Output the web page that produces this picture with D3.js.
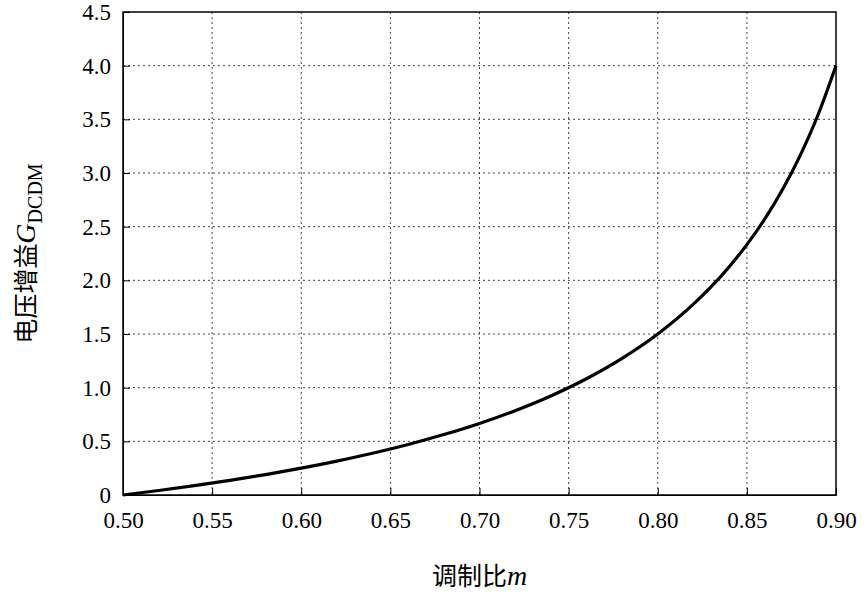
<!DOCTYPE html>
<html><head><meta charset="utf-8">
<script src="https://cdn.jsdelivr.net/npm/d3@7"></script>
<style>body{margin:0;background:#fff} text.t{font-family:"Liberation Serif","Times New Roman",serif !important}</style></head>
<body><svg id="c" width="868" height="594"></svg>
<script>
const mValues=[0.50,0.52,0.54,0.56,0.58,0.60,0.62,0.64,0.66,0.68,0.70,0.72,0.74,0.76,0.78,0.80,0.82,0.83,0.84,0.85,0.86,0.87,0.88,0.89,0.90];
const gValues=[0,0.042,0.087,0.136,0.190,0.25,0.316,0.389,0.471,0.563,0.667,0.786,0.923,1.083,1.273,1.5,1.778,1.941,2.125,2.333,2.571,2.846,3.167,3.545,4.0];
const xTicks=[0.50,0.55,0.60,0.65,0.70,0.75,0.80,0.85,0.90];
const yTicks=[0,0.5,1.0,1.5,2.0,2.5,3.0,3.5,4.0,4.5];
const svg=d3.select("#c");
const L=123,R=836,T=12,B=495;
const x=d3.scaleLinear().domain([0.5,0.9]).range([L,R]);
const y=d3.scaleLinear().domain([0,4.5]).range([B,T]);
const g=svg.append("g");
g.selectAll(".gx").data(xTicks.slice(1,-1)).join("line").attr("x1",d=>x(d)).attr("x2",d=>x(d)).attr("y1",T).attr("y2",B).attr("stroke","#444").attr("stroke-width",1).attr("stroke-dasharray","2,3");
g.selectAll(".gy").data(yTicks.slice(1,-1)).join("line").attr("y1",d=>y(d)).attr("y2",d=>y(d)).attr("x1",L).attr("x2",R).attr("stroke","#444").attr("stroke-width",1).attr("stroke-dasharray","2,3");
const xa=svg.append("g").attr("transform",`translate(0,${B})`).call(d3.axisBottom(x).tickValues(xTicks).tickFormat(d3.format(".2f")).tickSizeInner(-7).tickSizeOuter(0).tickPadding(17));
const ya=svg.append("g").attr("transform",`translate(${L},0)`).call(d3.axisLeft(y).tickValues(yTicks).tickFormat(d=>d===0?"0":d3.format(".1f")(d)).tickSizeInner(-7).tickSizeOuter(0).tickPadding(12));
[xa,ya].forEach(a=>{a.attr("font-family",null);a.selectAll("text").attr("class","t").attr("font-size",23).attr("fill","#000");a.selectAll("line,path").attr("stroke","#000");});
svg.append("rect").attr("x",L).attr("y",T).attr("width",R-L).attr("height",B-T).attr("fill","none").attr("stroke","#000").attr("stroke-width",1.5);
svg.append("path").datum(mValues.map((m,i)=>[m,gValues[i]])).attr("d",d3.line().x(d=>x(d[0])).y(d=>y(d[1])).curve(d3.curveMonotoneX)).attr("fill","none").attr("stroke","#000").attr("stroke-width",3.2);
const xl=svg.append("text").attr("x",(L+R)/2).attr("y",585).attr("text-anchor","middle").attr("font-size",25).attr("fill","#000");
xl.append("tspan").attr("font-family","Noto Sans CJK SC").text("调制比");
xl.append("tspan").attr("class","t").attr("font-style","italic").attr("font-size",28).text("m");
const yl=svg.append("text").attr("transform",`translate(35,${(T+B)/2}) rotate(-90)`).attr("text-anchor","middle").attr("font-size",25).attr("fill","#000");
yl.append("tspan").attr("font-family","Noto Sans CJK SC").text("电压增益");
yl.append("tspan").attr("class","t").attr("font-style","italic").attr("font-size",28).text("G");
yl.append("tspan").attr("class","t").attr("font-size",20).attr("dy",7).text("DCDM");
</script></body></html>
